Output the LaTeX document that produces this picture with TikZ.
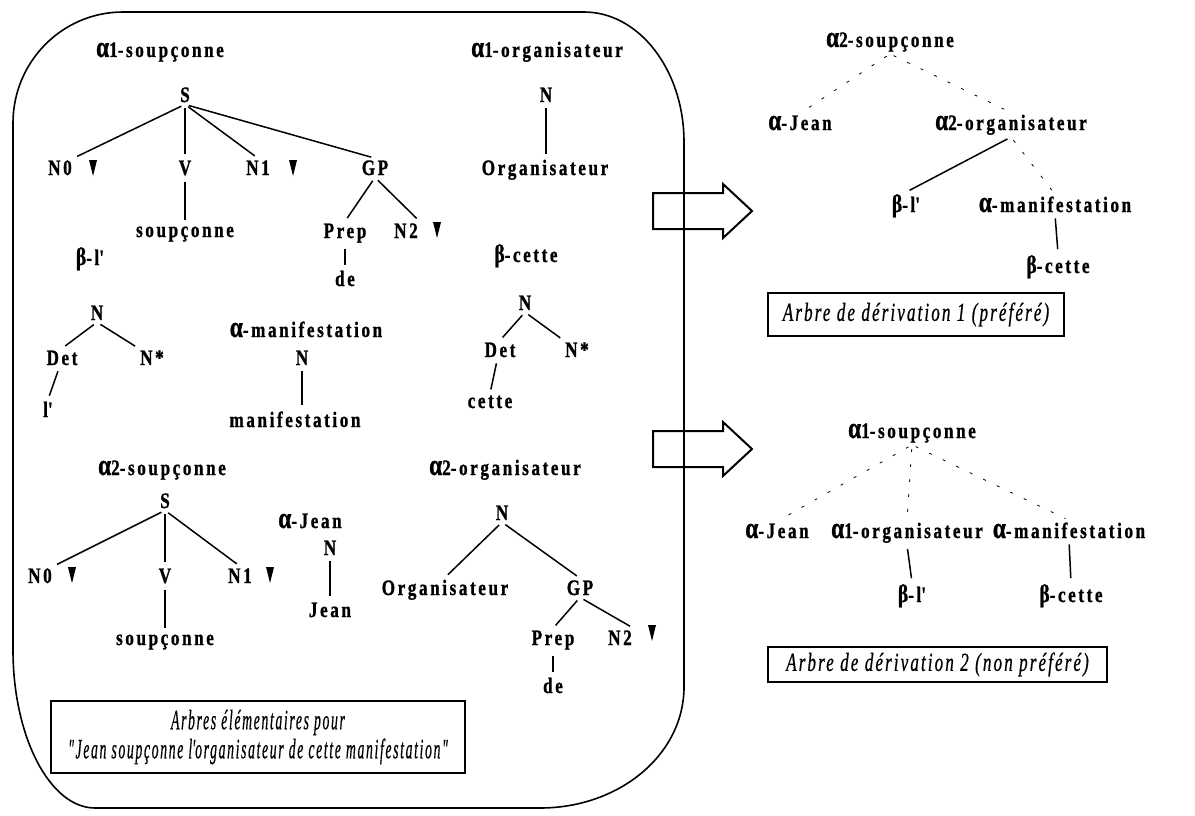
\documentclass[tikz,border=0pt]{standalone}
\usepackage{fontspec}
\newfontfamily\treefont[LetterSpace=15, BoldFeatures={FakeBold=1.2}]{Liberation Serif}
\newfontfamily\capfont[LetterSpace=12, ItalicFeatures={FakeBold=0.8}]{Liberation Serif}
\newfontfamily\greekfont[BoldFeatures={FakeBold=1.2}]{Liberation Serif}
\newcommand{\ga}[1]{{\greekfont{\fontsize{30}{30}\selectfont α}#1}}
\newcommand{\gb}{{\greekfont{\fontsize{25}{25}\selectfont β}}}
\newcommand{\apos}{\textquotesingle}
\newcommand{\squeeze}[2]{\scalebox{#1}[1]{#2}}

\tikzset{
  lbl/.style={font=\treefont\bfseries\fontsize{22}{24}\selectfont, xscale=0.78, inner sep=2pt, anchor=base},
  branch/.style={line width=1.5pt, shorten <=4pt, shorten >=4pt},
  dlink/.style={line width=0.8pt, dash pattern=on 3pt off 12pt, shorten <=4pt, shorten >=4pt},
  capbox/.style={draw, line width=1.5pt, inner sep=0pt},
  blockarrow/.style={line width=2pt, line join=miter},
}

\begin{document}
\begin{tikzpicture}[x=1pt,y=-1pt]
\useasboundingbox (0,0) rectangle (1195,816);

% Frame round the elementary trees
\draw[line width=1.6pt] (13,123) .. controls (13,62) and (62,12) .. (123,12) -- (584,12)
  .. controls (639,12) and (684,70) .. (684,142) -- (684,687)
  .. controls (684,754) and (620,808) .. (540,808) -- (95,808)
  .. controls (50,808) and (13,737) .. (13,650) -- cycle;

% alpha1-soupconne
\node[lbl] (a1s) at (160,57) {\ga{1}-soupçonne};
\node[lbl] (a1s-S) at (185,102) {S};
\node[lbl] (a1s-N0) at (60,175) {N0};
\node[lbl] (a1s-V) at (185,175) {V};
\node[lbl] (a1s-N1) at (258,175) {N1};
\node[lbl] (a1s-GP) at (375,175) {GP};
\node[lbl] (a1s-v) at (185,237) {soupçonne};
\node[lbl] (a1s-Prep) at (345,238) {Prep};
\node[lbl] (a1s-N2) at (406,238) {N2};
\node[lbl] (a1s-de) at (345,286) {de};
\draw[branch] (a1s-S.south) -- (a1s-N0.north east);
\draw[branch] (a1s-S.south) -- (a1s-V.north);
\draw[branch] (a1s-S.south) -- (a1s-N1.north);
\draw[branch] (a1s-S.south) -- (a1s-GP.north);
\draw[branch] (a1s-V.south) -- (a1s-v.north);
\draw[branch] (a1s-GP.south) -- (a1s-Prep.north);
\draw[branch] (a1s-GP.south) -- (a1s-N2.north east);
\draw[branch] (a1s-Prep.south) -- (a1s-de.north);

% alpha1-organisateur
\node[lbl] (a1o) at (547,57) {\ga{1}-organisateur};
\node[lbl] (a1o-N) at (546,102) {N};
\node[lbl] (a1o-n) at (545,175) {Organisateur};
\draw[branch] (a1o-N.south) -- (a1o-N.south |- a1o-n.north);

% beta-l'
\node[lbl] (bl) at (90,265) {\gb-l\apos};
\node[lbl] (bl-N) at (97,320) {N};
\node[lbl] (bl-Det) at (62,365) {Det};
\node[lbl] (bl-Ns) at (152,365) {N*};
\node[lbl] (bl-d) at (48,417) {l\apos};
\draw[branch] (bl-N.south) -- (bl-Det.north);
\draw[branch] (bl-N.south) -- (bl-Ns.north west);
\draw[branch] (bl-Det.250) -- (bl-d.north);

% alpha-manifestation
\node[lbl] (am) at (306,337) {\ga{}-manifestation};
\node[lbl] (am-N) at (302,365) {N};
\node[lbl] (am-n) at (295,427) {manifestation};
\draw[branch] (am-N.south) -- (am-N.south |- am-n.north);

% beta-cette
\node[lbl] (bc) at (526,262) {\gb-cette};
\node[lbl] (bc-N) at (525,310) {N};
\node[lbl] (bc-Det) at (500,357) {Det};
\node[lbl] (bc-Ns) at (577,357) {N*};
\node[lbl] (bc-d) at (490,408) {cette};
\draw[branch] (bc-N.south) -- (bc-Det.north);
\draw[branch] (bc-N.south) -- (bc-Ns.north west);
\draw[branch] (bc-Det.250) -- (bc-d.north);

% alpha2-soupconne
\node[lbl] (a2s) at (162,475) {\ga{2}-soupçonne};
\node[lbl] (a2s-S) at (165,508) {S};
\node[lbl] (a2s-N0) at (40,583) {N0};
\node[lbl] (a2s-V) at (165,583) {V};
\node[lbl] (a2s-N1) at (240,583) {N1};
\node[lbl] (a2s-v) at (165,645) {soupçonne};
\draw[branch] (a2s-S.south) -- (a2s-N0.north east);
\draw[branch] (a2s-S.south) -- (a2s-V.north);
\draw[branch] (a2s-S.south) -- (a2s-N1.north);
\draw[branch] (a2s-V.south) -- (a2s-v.north);

% alpha-Jean
\node[lbl] (aj) at (310,528) {\ga{}-Jean};
\node[lbl] (aj-N) at (330,555) {N};
\node[lbl] (aj-n) at (330,617) {Jean};
\draw[branch] (aj-N.south) -- (aj-n.north);

% alpha2-organisateur
\node[lbl] (a2o) at (505,475) {\ga{2}-organisateur};
\node[lbl] (a2o-N) at (502,520) {N};
\node[lbl] (a2o-n) at (445,595) {Organisateur};
\node[lbl] (a2o-GP) at (580,595) {GP};
\node[lbl] (a2o-Prep) at (553,645) {Prep};
\node[lbl] (a2o-N2) at (620,645) {N2};
\node[lbl] (a2o-de) at (553,693) {de};
\draw[branch] (a2o-N.south) -- (a2o-n.north);
\draw[branch] (a2o-N.south) -- (a2o-GP.north);
\draw[branch] (a2o-GP.south) -- (a2o-Prep.north);
\draw[branch] (a2o-GP.south) -- (a2o-N2.north east);
\draw[branch] (a2o-Prep.south) -- (a2o-de.north);

% Substitution marks
\foreach \x/\y in {93/168,293/168,437/230,72/575,270/575,652/633}
  \fill (\x-4,\y-8) -- (\x+4,\y-8) -- (\x,\y+8) -- cycle;

% Caption of the frame
\node[capbox, minimum width=414pt, minimum height=72pt, align=center,
  font=\capfont\itshape\fontsize{28}{29}\selectfont] (elem-cap) at (258,737)
  {\squeeze{0.49}{Arbres élémentaires pour}\\
   \squeeze{0.49}{"Jean soupçonne l\apos organisateur de cette manifestation"}};

% Arrows
\foreach \y in {211,449}
  \draw[blockarrow] (653,\y-18) -- (723,\y-18) -- (723,\y-27) -- (752,\y)
    -- (723,\y+27) -- (723,\y+18) -- (653,\y+18) -- cycle;

% Derivation tree 1
\node[lbl] (d1) at (890,47) {\ga{2}-soupçonne};
\node[lbl] (d1-j) at (800,130) {\ga{}-Jean};
\node[lbl] (d1-o) at (1011,130) {\ga{2}-organisateur};
\node[lbl] (d1-l) at (906,212) {\gb-l\apos};
\node[lbl] (d1-m) at (1055,212) {\ga{}-manifestation};
\node[lbl] (d1-c) at (1058,273) {\gb-cette};
\draw[dlink] (d1.south) -- (d1-j.north);
\draw[dlink] (d1.south) -- (d1-o.north);
\draw[branch] (d1-o.south) -- (d1-l.north);
\draw[dlink] (d1-o.south) -- (d1-m.north);
\draw[branch] (d1-m.south) -- (d1-c.north);
\node[capbox, minimum width=296pt, minimum height=43pt,
  font=\capfont\itshape\fontsize{26}{28}\selectfont] (d1-cap) at (916,314.5)
  {\squeeze{0.66}{Arbre de dérivation 1 (préféré)}};

% Derivation tree 2
\node[lbl] (d2) at (912,438) {\ga{1}-soupçonne};
\node[lbl] (d2-j) at (777,538) {\ga{}-Jean};
\node[lbl] (d2-o) at (907,538) {\ga{1}-organisateur};
\node[lbl] (d2-m) at (1069,538) {\ga{}-manifestation};
\node[lbl] (d2-l) at (912,602) {\gb-l\apos};
\node[lbl] (d2-c) at (1071,602) {\gb-cette};
\draw[dlink] (d2.south) -- (d2-j.north);
\draw[dlink] (d2.south) -- (d2-o.north);
\draw[dlink] (d2.south) -- (d2-m.north);
\draw[branch] (d2-o.south) -- (d2-l.north);
\draw[branch] (d2-m.south) -- (d2-c.north);
\node[capbox, minimum width=339pt, minimum height=35pt,
  font=\capfont\itshape\fontsize{26}{28}\selectfont] (d2-cap) at (937.5,664.5)
  {\squeeze{0.66}{Arbre de dérivation 2 (non préféré)}};
\end{tikzpicture}
\end{document}
